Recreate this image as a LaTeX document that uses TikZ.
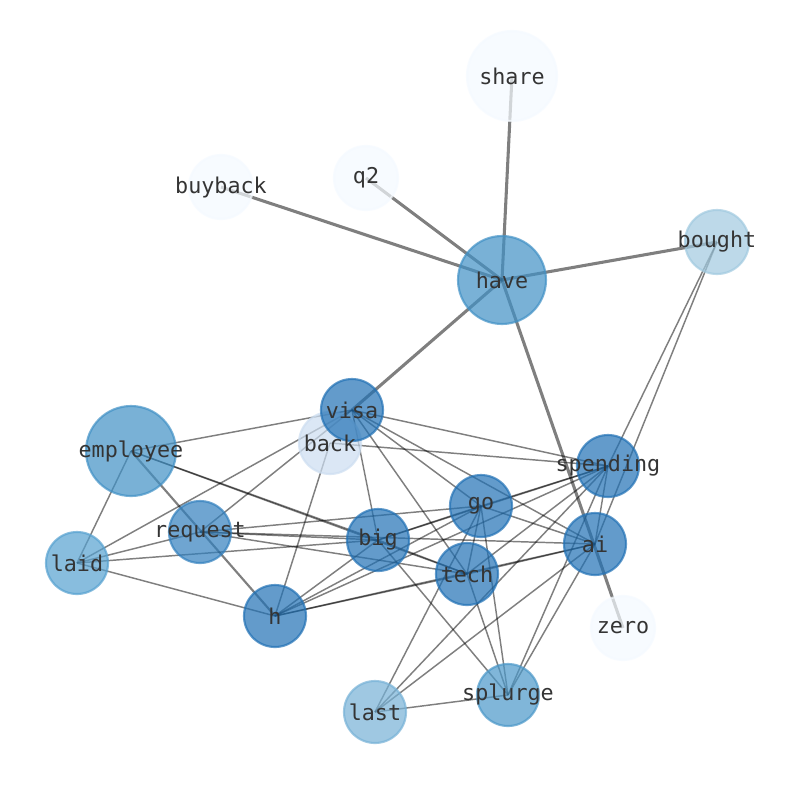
\documentclass[tikz,border=0pt]{standalone}
\usepackage{fontspec}
\setmonofont{DejaVu Sans Mono}
\definecolor{cdark}{RGB}{33,113,181}
\definecolor{creq}{RGB}{50,128,190}
\definecolor{cmid}{RGB}{65,145,198}
\definecolor{csplurge}{RGB}{75,152,201}
\definecolor{claid}{RGB}{86,161,208}
\definecolor{clast}{RGB}{119,178,215}
\definecolor{cbought}{RGB}{161,202,224}
\definecolor{cback}{RGB}{205,222,241}
\definecolor{cpale}{RGB}{245,250,255}
\definecolor{ctext}{RGB}{52,52,52}
\tikzset{
  vtx/.style={circle, inner sep=0pt, minimum size=#1*0.75pt, line width=1.6pt, fill opacity=0.7, draw opacity=0.7},
  lbl/.style={text=ctext, font=\fontsize{16.3}{18}\selectfont\ttfamily, inner sep=0pt},
  thin edge/.style={draw=black, draw opacity=0.5, line width=1.1pt},
  heavy edge/.style={draw=black, draw opacity=0.5, line width=2.3pt},
}
\begin{document}
\begin{tikzpicture}[x=0.75pt,y=-0.75pt]
\useasboundingbox (0,0) rectangle (794,790);
\fill[white] (0,0) rectangle (794,790);
% positions
\coordinate (share) at (512,76);
\coordinate (buyback) at (221,187);
\coordinate (q2) at (366,178);
\coordinate (have) at (502,280);
\coordinate (bought) at (717,242);
\coordinate (visa) at (352,410);
\coordinate (back) at (330,443);
\coordinate (employee) at (131,451);
\coordinate (spending) at (608,466);
\coordinate (go) at (481,506);
\coordinate (request) at (200,532);
\coordinate (big) at (378,540);
\coordinate (ai) at (595,544);
\coordinate (laid) at (77,563);
\coordinate (tech) at (467,574);
\coordinate (h) at (275,616);
\coordinate (zero) at (623,628);
\coordinate (splurge) at (508,695);
\coordinate (last) at (375,712);
% heavy edges
\foreach \a in {share,buyback,q2,bought,visa,zero}
  \draw[heavy edge] (have) -- (\a);
% thin edges
\foreach \a/\b in {bought/spending, bought/ai,
  employee/visa, employee/laid, employee/big, employee/tech,
  laid/visa, laid/request, laid/big, laid/h,
  request/visa, request/go, request/big, request/ai, request/tech,
  h/back, h/big, h/go, h/spending, h/tech, h/ai,
  back/spending,
  visa/big, visa/tech, visa/go, visa/ai, visa/spending,
  big/go, big/spending, big/tech, big/splurge,
  go/spending, go/ai, go/tech, go/last, go/splurge,
  tech/spending, tech/ai, tech/splurge,
  spending/ai, spending/last, spending/splurge,
  ai/last, ai/splurge, last/splurge}
  \draw[thin edge] (\a) -- (\b);
\draw[thin edge, line width=1.6pt] (employee) -- (h);
% nodes
\node[vtx=90, fill=cpale, draw=cpale] (share-c) at (share) {};
\node[vtx=64, fill=cpale, draw=cpale] (buyback-c) at (buyback) {};
\node[vtx=64, fill=cpale, draw=cpale] (q2-c) at (q2) {};
\node[vtx=88, fill=cmid, draw=cmid] (have-c) at (have) {};
\node[vtx=64, fill=cbought, draw=cbought] (bought-c) at (bought) {};
\node[vtx=62, fill=cback, draw=cback] (back-c) at (back) {};
\node[vtx=62, fill=cdark, draw=cdark] (visa-c) at (visa) {};
\node[vtx=90, fill=cmid, draw=cmid] (employee-c) at (employee) {};
\node[vtx=62, fill=cdark, draw=cdark] (spending-c) at (spending) {};
\node[vtx=62, fill=cdark, draw=cdark] (go-c) at (go) {};
\node[vtx=62, fill=creq, draw=creq] (request-c) at (request) {};
\node[vtx=62, fill=cdark, draw=cdark] (big-c) at (big) {};
\node[vtx=62, fill=cdark, draw=cdark] (ai-c) at (ai) {};
\node[vtx=62, fill=claid, draw=claid] (laid-c) at (laid) {};
\node[vtx=62, fill=cdark, draw=cdark] (tech-c) at (tech) {};
\node[vtx=62, fill=cdark, draw=cdark] (h-c) at (h) {};
\node[vtx=64, fill=cpale, draw=cpale] (zero-c) at (zero) {};
\node[vtx=62, fill=csplurge, draw=csplurge] (splurge-c) at (splurge) {};
\node[vtx=62, fill=clast, draw=clast] (last-c) at (last) {};
% labels
\foreach \n in {share,buyback,q2,have,bought,back,visa,employee,spending,go,request,big,ai,laid,tech,h,zero,splurge,last}
  \node[lbl] (\n-l) at (\n) {\n};
\end{tikzpicture}
\end{document}
